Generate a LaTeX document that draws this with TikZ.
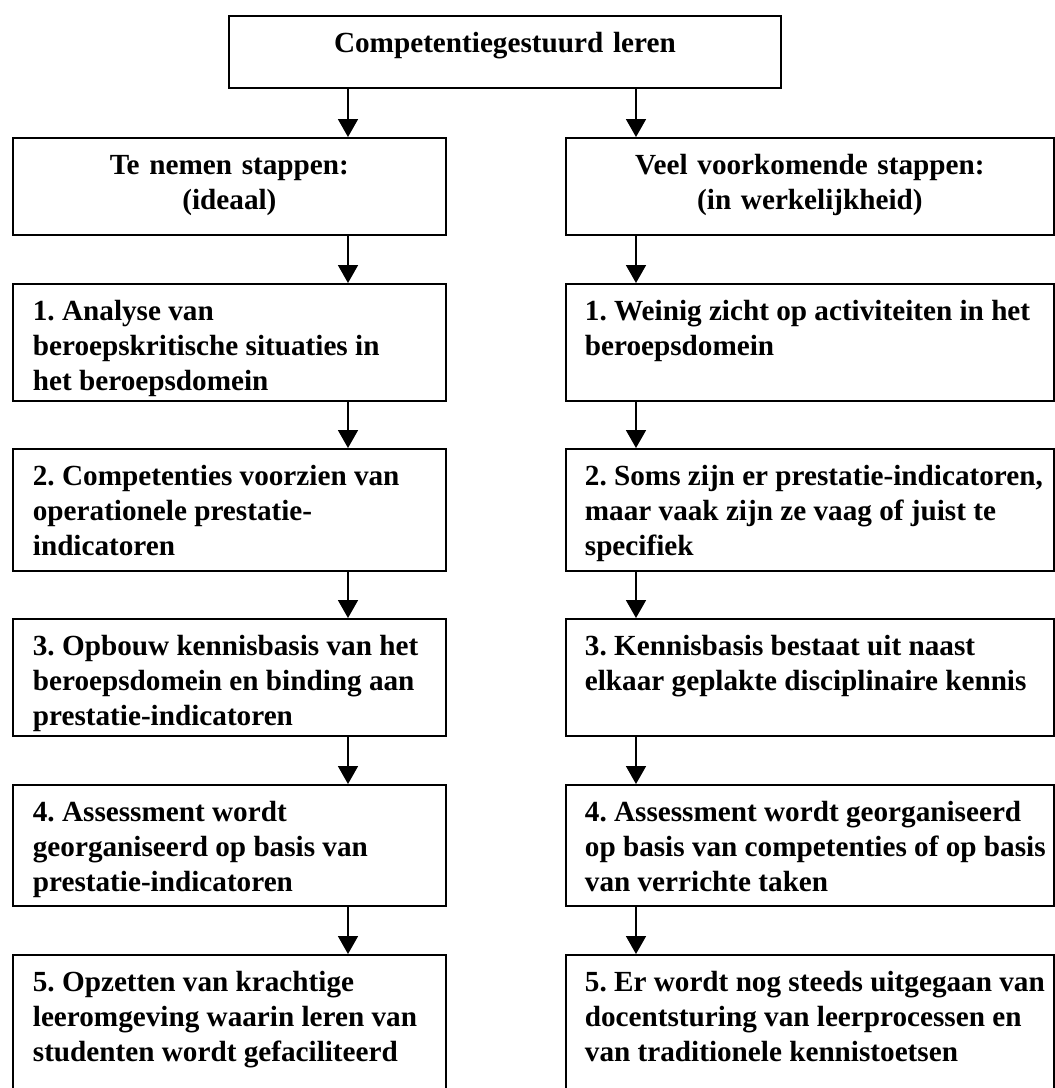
\documentclass[tikz,border=0pt]{standalone}
\usepackage{fontspec}
\setmainfont{Liberation Serif}
\usepackage{tikz}
\usetikzlibrary{arrows.meta, positioning, calc}

\begin{document}
\begin{tikzpicture}[x=0.5pt, y=-0.5pt,
  box/.style={draw, line width=0.9pt, anchor=north west, inner ysep=0pt, text height=18.5pt,
    font=\fontsize{14.6pt}{17.3pt}\selectfont\bfseries},
  leftbox/.style={box, inner xsep=-3pt, text width=222.5pt, align=left,
    execute at begin node={\leftskip=13pt\spaceskip=\fontdimen2\font\frenchspacing}},
  rightbox/.style={box, inner xsep=-3pt, text width=250pt, align=left,
    execute at begin node={\leftskip=12.5pt\spaceskip=\fontdimen2\font\frenchspacing}},
  arr/.style={-{Triangle[width=10pt, length=9pt]}, line width=0.9pt}]
  \useasboundingbox (0,0) rectangle (1055,1088);

  % Top
  \node[box, inner xsep=10pt, text width=256pt, align=center, text depth=17.5pt] (goal) at (228, 15) {Competentiegestuurd leren};

  % Headers
  \node[box, inner xsep=2pt, text width=212.5pt, align=center, text depth=30pt] (ideal) at (12, 137) {Te nemen stappen:\\(ideaal)};
  \node[box, inner xsep=2pt, text width=240pt, align=center, text depth=30pt] (real) at (565, 137) {Veel voorkomende stappen:\\(in werkelijkheid)};

  % Ideal steps
  \node[leftbox, text depth=40pt] (i1) at (12, 283) {1. Analyse van\\beroepskritische situaties in\\het beroepsdomein};
  \node[leftbox, text depth=42.5pt] (i2) at (12, 448) {2. Competenties voorzien van\\operationele prestatie-\\indicatoren};
  \node[leftbox, text depth=40pt] (i3) at (12, 618) {3. Opbouw kennisbasis van het\\beroepsdomein en binding aan\\prestatie-indicatoren};
  \node[leftbox, text depth=42pt] (i4) at (12, 784) {4. Assessment wordt\\georganiseerd op basis van\\prestatie-indicatoren};
  \node[leftbox, text depth=50.5pt] (i5) at (12, 954) {5. Opzetten van krachtige\\leeromgeving waarin leren van\\studenten wordt gefaciliteerd};

  % Real steps
  \node[rightbox, text depth=40pt] (r1) at (565, 283) {1. Weinig zicht op activiteiten in het\\beroepsdomein};
  \node[rightbox, text depth=42.5pt] (r2) at (565, 448) {2. Soms zijn er prestatie-indicatoren,\\maar vaak zijn ze vaag of juist te\\specifiek};
  \node[rightbox, text depth=40pt] (r3) at (565, 618) {3. Kennisbasis bestaat uit naast\\elkaar geplakte disciplinaire kennis};
  \node[rightbox, text depth=42pt] (r4) at (565, 784) {4. Assessment wordt georganiseerd\\op basis van competenties of op basis\\van verrichte taken};
  \node[rightbox, text depth=50.5pt] (r5) at (565, 954) {5. Er wordt nog steeds uitgegaan van\\docentsturing van leerprocessen en\\van traditionele kennistoetsen};

  % Arrows
  \coordinate (la) at (348, 0);
  \coordinate (ra) at (636, 0);
  \draw[arr] (goal.south -| la) -- (ideal.north -| la);
  \draw[arr] (goal.south -| ra) -- (real.north -| ra);
  \draw[arr] (ideal.south -| la) -- (i1.north -| la);
  \draw[arr] (i1.south -| la) -- (i2.north -| la);
  \draw[arr] (i2.south -| la) -- (i3.north -| la);
  \draw[arr] (i3.south -| la) -- (i4.north -| la);
  \draw[arr] (i4.south -| la) -- (i5.north -| la);
  \draw[arr] (real.south -| ra) -- (r1.north -| ra);
  \draw[arr] (r1.south -| ra) -- (r2.north -| ra);
  \draw[arr] (r2.south -| ra) -- (r3.north -| ra);
  \draw[arr] (r3.south -| ra) -- (r4.north -| ra);
  \draw[arr] (r4.south -| ra) -- (r5.north -| ra);
\end{tikzpicture}
\end{document}
